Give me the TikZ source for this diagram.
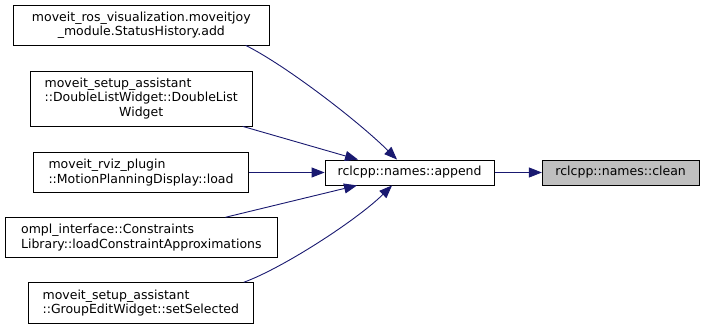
\documentclass[tikz,border=0pt]{standalone}
\usepackage{fontspec}
\setmainfont{DejaVu Sans}
\usetikzlibrary{arrows.meta}
\definecolor{edgeblue}{RGB}{25,25,112}
\definecolor{curgray}{RGB}{191,191,191}

\begin{document}
\begin{tikzpicture}[x=1pt,y=-1pt,
    fn/.style={draw=black, line width=0.8pt, fill=white, inner sep=0pt, align=left,
      font=\fontsize{12.5}{14.6}\selectfont},
    calls/.style={draw=edgeblue, line width=0.9pt, -{Triangle[length=13pt,width=10pt]}}]
    \useasboundingbox (0,0) rectangle (704,329);

    % callers
    \node[fn, align=center, minimum width=256pt, minimum height=39.3pt] (add) at (141.3,25.35)
      {moveit\_ros\_visualization.moveitjoy\\\_module.StatusHistory.add};
    \node[fn, minimum width=222.3pt, minimum height=54.3pt] (dlw) at (141.2,98.85)
      {\begin{tabular}{@{}l@{}}moveit\_setup\_assistant\\::DoubleListWidget::DoubleList\\\multicolumn{1}{@{}c@{}}{Widget}\end{tabular}};
    \node[fn, minimum width=215.4pt, minimum height=39.6pt] (load) at (141,172.5)
      {moveit\_rviz\_plugin\\::MotionPlanningDisplay::load};
    \node[fn, minimum width=272.7pt, minimum height=40pt] (cla) at (141.35,237.7)
      {ompl\_interface::Constraints\\Library::loadConstraintApproximations};
    \node[fn, minimum width=225pt, minimum height=40.6pt] (sel) at (140.8,303)
      {moveit\_setup\_assistant\\::GroupEditWidget::setSelected};

    % append and clean
    \node[fn, minimum width=169.3pt, minimum height=25pt] (append) at (409.65,172.5) {rclcpp::names::append};
    \node[fn, fill=curgray, minimum width=156.7pt, minimum height=25pt] (clean) at (620.65,172.5) {rclcpp::names::clean};

    \draw[calls] ([xshift=-24pt]add.south east) .. controls (285,65) and (357,120) .. ([xshift=-12.6pt]append.north);
    \draw[calls] ([xshift=-10pt]dlw.south east) -- ([xshift=-51.6pt]append.north);
    \draw[calls] (load) -- (append);
    \draw[calls] ([xshift=-52.7pt]cla.north east) -- ([xshift=-52.6pt]append.south);
    \draw[calls] ([xshift=-10pt]sel.north east) .. controls (283,268) and (357,220) .. ([xshift=-17.6pt]append.south);
    \draw[calls] (append) -- (clean);
\end{tikzpicture}
\end{document}
